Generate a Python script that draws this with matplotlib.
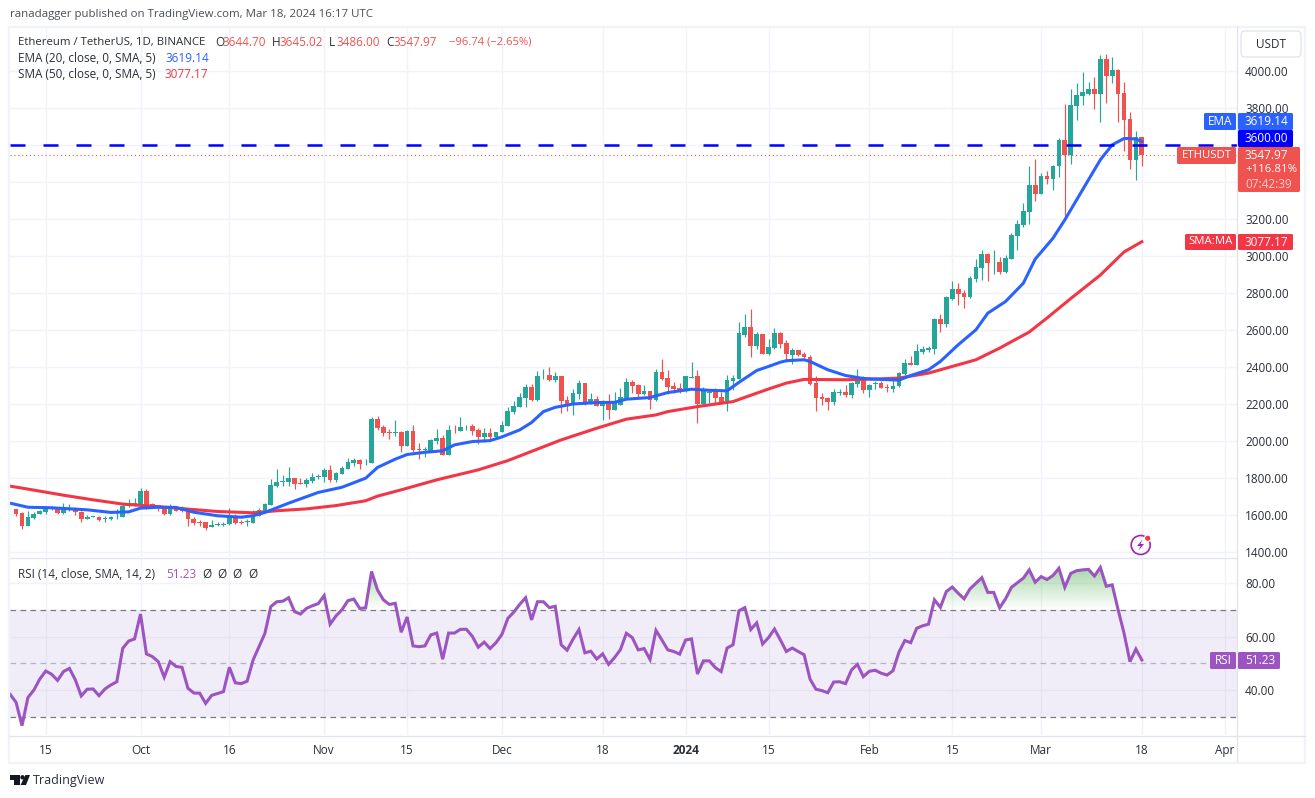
import matplotlib
matplotlib.use('Agg')
import matplotlib.pyplot as plt
import matplotlib.dates as mdates
from matplotlib.patches import Rectangle, Circle, Polygon, FancyBboxPatch
from matplotlib.path import Path
import numpy as np
import pandas as pd

plt.rcParams['font.family'] = ['Open Sans', 'DejaVu Sans']

dates = pd.date_range('2023-09-09', '2024-03-18', freq='D')

opens = [1632,1632,1610,1543,1585,1603,1617,1639,1630,1612,1628,1637,1617,1576,1588,1590,1578,1581,1592,1590,1646,1660,
         1659,1731,1660,1653,1644,1603,1642,1630,1628,1579,1563,1561,1533,1547,1547,1549,1597,1561,1561,1558,1596,1623,1655,1756,1781,1779,1801,1772,1768,1785,1803,
         1806,1844,1790,1824,1848,1882,1898,1884,1882,2118,2076,2047,2042,2049,1975,2055,1957,1954,1948,2001,2017,1927,2060,2056,2080,2083,2060,2019,2044,2024,
         2046,2083,2159,2186,2235,2290,2224,2355,2357,2330,2352,2222,2193,2254,2314,2211,2227,2190,2215,2170,2197,2235,2317,2301,2254,2269,2224,2373,2339,2296,2285,
         2276,2343,2350,2202,2262,2263,2236,2215,2326,2337,2575,2614,2514,2579,2468,2504,2583,2529,2466,2493,2471,2455,2315,2239,2234,2212,2261,2266,2250,2309,2345,
         2277,2308,2311,2291,2282,2295,2363,2423,2412,2482,2493,2498,2662,2633,2768,2822,2801,2779,2876,2936,3011,2965,2968,2914,2984,3109,3168,3240,3384,
         3335,3433,3416,3484,3628,3547,3813,3867,3876,3903,3876,4065,3974,4006,3880,3741,3520,3644.70]
highs = [1634,1634,1617,1624,1614,1628,1648,1648,1635,1666,1659,1641,1621,1601,1597,1596,1596,1597,1630,1664,1687,1693,
         1747,1741,1666,1655,1648,1660,1644,1646,1635,1590,1572,1563,1574,1560,1560,1637,1603,1574,1579,1626,1639,1666,1795,1849,1817,1860,1801,1801,1799,1828,1819,
         1855,1871,1833,1866,1909,1909,1903,1903,2128,2136,2087,2064,2114,2056,2060,2087,1988,1970,2011,2065,2033,2087,2087,2128,2089,2092,2069,2071,2071,2049,
         2109,2184,2217,2262,2308,2307,2380,2389,2402,2373,2352,2244,2281,2330,2314,2258,2242,2222,2253,2265,2285,2339,2330,2308,2303,2269,2388,2442,2384,2319,2312,
         2350,2427,2384,2290,2280,2285,2267,2357,2357,2641,2686,2713,2587,2579,2552,2612,2588,2547,2504,2493,2482,2466,2353,2261,2239,2282,2282,2304,2320,2390,2353,
         2309,2326,2324,2309,2331,2374,2444,2461,2525,2515,2515,2666,2687,2785,2866,2855,2817,2893,2984,3033,3017,3033,2995,3006,3125,3195,3287,3487,3524,
         3449,3460,3492,3637,3822,3902,3934,3993,3943,3965,4087,4092,4078,4010,3938,3777,3677,3645.02]
lows = [1630,1597,1527,1543,1581,1603,1608,1628,1606,1605,1621,1601,1563,1576,1587,1569,1560,1574,1581,1590,1644,1646,
        1650,1633,1639,1621,1601,1601,1623,1614,1542,1547,1543,1520,1533,1542,1542,1547,1549,1552,1538,1558,1594,1621,1655,1752,1758,1758,1741,1767,1750,1772,1797,
        1781,1781,1776,1822,1846,1866,1849,1871,1882,2060,2029,2011,2028,1938,1974,1938,1905,1916,1947,1986,1927,1925,2042,2055,2060,2033,1986,1993,2011,2020,
        2046,2083,2148,2184,2186,2218,2218,2334,2325,2319,2154,2163,2141,2226,2197,2200,2190,2114,2118,2168,2195,2231,2258,2236,2251,2175,2218,2330,2254,2262,2258,
        2267,2341,2100,2200,2204,2208,2208,2164,2276,2334,2564,2456,2499,2468,2466,2498,2504,2428,2414,2457,2450,2304,2164,2196,2169,2196,2250,2239,2234,2293,2261,
        2239,2282,2286,2266,2266,2293,2358,2412,2412,2471,2482,2471,2590,2617,2763,2736,2720,2774,2858,2871,2866,2903,2903,2907,2984,3033,3157,3173,3298,
        3335,3389,3357,3425,3196,3498,3736,3817,3871,3795,3727,3826,3934,3727,3569,3471,3412,3486.00]
closes = [1631,1606,1543,1590,1605,1623,1639,1630,1612,1630,1635,1614,1576,1590,1592,1574,1585,1590,1597,1650,1664,1664,
          1731,1650,1646,1637,1603,1644,1624,1624,1576,1558,1556,1531,1547,1552,1554,1597,1558,1556,1565,1601,1628,1660,1763,1779,1785,1801,1768,1768,1790,1806,1812,
          1844,1790,1828,1855,1887,1898,1876,1889,2118,2071,2044,2042,2047,1975,2055,1954,1954,1957,2006,2017,1927,2060,2058,2076,2083,2056,2019,2044,2024,2049,
          2087,2163,2190,2236,2290,2222,2352,2359,2330,2352,2218,2190,2258,2312,2211,2227,2191,2215,2168,2213,2236,2317,2298,2254,2269,2224,2371,2335,2294,2281,2276,
          2350,2348,2202,2276,2267,2235,2209,2330,2341,2584,2614,2514,2578,2468,2509,2583,2525,2468,2493,2466,2452,2309,2234,2228,2212,2266,2266,2250,2315,2345,2277,
          2304,2311,2288,2284,2299,2367,2421,2412,2488,2498,2504,2662,2633,2776,2822,2795,2779,2882,2941,3011,2963,2968,2914,2990,3114,3173,3244,3384,3335,
          3433,3416,3487,3628,3547,3817,3871,3884,3903,3876,4065,3974,4006,3876,3736,3520,3644,3547.97]

rsi = [38.4,35.4,26.7,37.2,40,44.1,47.1,45.9,43.6,46.9,48.1,43.8,37.8,40.3,40.4,37.9,40.4,41.9,43.1,55.6,58.3,59.1,
       68.4,53.5,52.5,50.6,44.8,50.6,48.8,48.5,40.7,38.9,38.8,35,38,38.7,39.4,48.5,42.7,42.4,43.3,51.2,56.2,61.2,71.2,73,73.2,74.5,69.3,68.4,70.5,71.5,72.3,
       75.3,64.6,67.7,70,73.4,74,70.5,70.7,84.3,77.4,73.7,72,72.4,61.6,67.3,56.5,56.2,56.5,60.6,61.3,51.5,61.3,61.3,62.7,62.7,60.1,56,57.9,55.5,57.7,
       60.8,66.8,69.1,72,74.5,66.2,73,73,70.8,71.3,56.9,54.9,59,62.6,53.9,54.5,51.6,53.5,49.6,52.1,55.1,61.2,59.6,55,55.5,51.4,62.3,58.7,55,54.4,53.4,
       58.7,59.1,46,50.9,50.9,48.4,46.9,55.7,56.9,69.6,70.8,62.6,65.1,57.2,59.6,62.8,58.7,54.4,55.7,54.4,53.2,44.1,40.3,39.8,39,43,43.1,42.4,47.5,49.6,45,
       47,47.4,46.3,45.6,47.2,54.1,58.5,57.7,63.1,64,64.6,73.7,70.9,76.8,78.5,76.2,74.1,77.8,79.9,82,76.5,76.5,70.7,74.1,78.4,80.1,81.8,84.9,80.3,
       82.4,81.3,82.8,85.5,78.4,83.6,84.6,84.9,85.1,82.6,85.8,78.8,79.3,70,61.2,50.6,55.3,51.23]

ema_dates = ['2023-09-09','2023-09-12','2023-09-16','2023-09-22','2023-09-26','2023-09-29','2023-10-01','2023-10-04','2023-10-07',
             '2023-10-10','2023-10-14','2023-10-18','2023-10-20','2023-10-22','2023-10-26','2023-10-31','2023-11-04','2023-11-08',
             '2023-11-10','2023-11-13','2023-11-15','2023-11-18','2023-11-21','2023-11-23','2023-11-26','2023-11-29','2023-12-01',
             '2023-12-04','2023-12-06','2023-12-08','2023-12-10','2023-12-13','2023-12-17','2023-12-20','2023-12-22','2023-12-26',
             '2023-12-29','2024-01-02','2024-01-05','2024-01-08','2024-01-10','2024-01-13','2024-01-15','2024-01-17','2024-01-18',
             '2024-01-21','2024-01-22','2024-01-25','2024-01-28','2024-01-31','2024-02-03','2024-02-06','2024-02-08','2024-02-11',
             '2024-02-13','2024-02-16','2024-02-19','2024-02-21','2024-02-24','2024-02-27','2024-02-29','2024-03-03','2024-03-05',
             '2024-03-08','2024-03-11','2024-03-13','2024-03-15','2024-03-16','2024-03-17','2024-03-18']
ema_vals = [1664,1642,1639,1628,1614,1617,1637,1642,1641,1615,1596,1588,1596,1614,1664,1722,1750,1799,1857,1902,1927,1939,1947,1979,1997,2002,2022,
            2060,2100,2159,2182,2200,2208,2209,2226,2235,2262,2280,2274,2271,2317,2381,2403,2426,2434,2439,2430,2385,2354,2338,2333,2329,2354,2385,
            2430,2520,2601,2691,2754,2853,2983,3096,3195,3358,3520,3601,3635,3635,3632,3619.14]

sma_dates = ['2023-09-09','2023-09-12','2023-09-18','2023-09-23','2023-09-28','2023-10-02','2023-10-09','2023-10-14','2023-10-20',
             '2023-10-24','2023-10-29','2023-11-03','2023-11-08','2023-11-10','2023-11-14','2023-11-20','2023-11-27','2023-12-02',
             '2023-12-11','2023-12-17','2023-12-22','2023-12-27','2023-12-29','2024-01-03','2024-01-09','2024-01-11','2024-01-15',
             '2024-01-18','2024-01-21','2024-01-28','2024-02-02','2024-02-06','2024-02-11','2024-02-15','2024-02-19','2024-02-23',
             '2024-02-28','2024-03-02','2024-03-06','2024-03-11','2024-03-15','2024-03-18']
sma_vals = [1756,1740,1707,1682,1659,1650,1632,1619,1612,1623,1633,1651,1677,1702,1736,1790,1844,1894,2006,2069,2118,2141,2159,2186,2213,2236,2281,
            2313,2333,2331,2335,2340,2367,2403,2439,2502,2589,2665,2770,2897,3022,3077.17]

price_ticks = [1400,1600,1800,2000,2200,2400,2600,2800,3000,3200,3400,3600,3800,4000]
# 3400 and 3600 sit under the price tags in the reference
price_labels = ['1400.00','1600.00','1800.00','2000.00','2200.00','2400.00','2600.00','2800.00','3000.00','3200.00','','','3800.00','4000.00']
rsi_ticks = [40,60,80]
time_ticks = ['2023-09-15','2023-10-01','2023-10-16','2023-11-01','2023-11-15','2023-12-01','2023-12-18','2024-01-01',
              '2024-01-15','2024-02-01','2024-02-15','2024-03-01','2024-03-18','2024-04-01']
time_labels = ['15','Oct','16','Nov','15','Dec','18','2024','15','Feb','15','Mar','18','Apr']

W, H = 1315, 798
UP = '#26a69a'
DOWN = '#ef5350'
BLUE = '#2962ff'
RED = '#f23645'
PURPLE = '#9c55c0'
GRID = '#f0f3fa'
EDGE = '#e0e3eb'
TXT = '#2a2e39'
FS = 8.5

def pane(x0, y0, x1, y1):
    return fig.add_axes([x0/W, 1-y1/H, (x1-x0)/W, (y1-y0)/H])

fig = plt.figure(figsize=(W/100, H/100), dpi=100, facecolor='white')
ax = pane(10, 27, 1237, 557)
ax2 = pane(10, 559, 1237, 735)

x = mdates.date2num(dates)
day0 = mdates.date2num(pd.Timestamp('2023-09-15'))
xmin = day0+(10-45.7)/5.925
xmax = day0+(1237-45.7)/5.925

# candles
o = np.array(opens); h = np.array(highs); l = np.array(lows); c = np.array(closes)
cols = np.where(c >= o, UP, DOWN)
ax.vlines(x, l, h, colors=cols, lw=0.85, zorder=3)
ax.bar(x, np.maximum(np.abs(c-o), 3), bottom=np.minimum(o, c), width=0.8, color=cols, lw=0, zorder=3)

ax.plot(mdates.date2num(pd.to_datetime(sma_dates)), sma_vals, color=RED, lw=2.2, zorder=4, solid_joinstyle='round')
ax.plot(mdates.date2num(pd.to_datetime(ema_dates)), ema_vals, color=BLUE, lw=2.2, zorder=4, solid_joinstyle='round')
ax.axhline(3600, color='#0000ff', lw=1.8, dashes=(6, 7.2), zorder=5)
ax.axhline(closes[-1], color=DOWN, lw=0.8, ls=(0, (1, 2.5)), zorder=2)

ax.set_xlim(xmin, xmax)
ax.set_ylim(1373, 4237.8)
ax.yaxis.tick_right()
ax.set_yticks(price_ticks)
ax.set_yticklabels(price_labels)
ax.tick_params(axis='y', length=0, pad=5.8, labelsize=FS, labelcolor=TXT)
ax.tick_params(axis='x', length=0, labelbottom=False)
ax.set_xticks(mdates.date2num(pd.to_datetime(time_ticks)))
ax.grid(True, color=GRID, lw=1)
ax.set_axisbelow(True)
for s in ax.spines.values():
    s.set_visible(False)

# rsi pane
r = np.array(rsi)
ax2.axhspan(30, 70, color='#7e57c2', alpha=0.1, lw=0, zorder=1)
for lev, a in [(70, 1), (50, 0.5), (30, 1)]:
    ax2.axhline(lev, color='#787b86', lw=0.9, alpha=a, ls=(0, (4.5, 3.5)), zorder=2)
over = ax2.fill_between(x, 70, r, where=r > 70, interpolate=True, facecolor='none', lw=0)
grad = np.zeros((64, 2, 4))
grad[:, :, 0] = 0x4c/255; grad[:, :, 1] = 0xaf/255; grad[:, :, 2] = 0x50/255
grad[:, :, 3] = np.linspace(0, 0.5, 64)[:, None]
im = ax2.imshow(grad, extent=(x[0], x[-1], 70, 86), origin='lower', aspect='auto', zorder=2)
im.set_clip_path(Path.make_compound_path(*over.get_paths()), ax2.transData)
ax2.plot(x, rsi, color=PURPLE, lw=2.2, zorder=3, solid_joinstyle='miter')
ax2.set_xlim(xmin, xmax)
ax2.set_ylim(23.2, 88.97)
ax2.yaxis.tick_right()
ax2.set_yticks(rsi_ticks)
ax2.set_yticklabels(['%.2f' % p for p in rsi_ticks])
ax2.tick_params(axis='y', length=0, pad=5.8, labelsize=FS, labelcolor=TXT)
ax2.set_xticks(mdates.date2num(pd.to_datetime(time_ticks)))
ax2.set_xticklabels(time_labels)
ax2.tick_params(axis='x', length=0, pad=6.5, labelsize=FS, labelcolor=TXT)
for t in ax2.get_xticklabels():
    if t.get_text() == '2024':
        t.set_fontweight('bold')
ax2.grid(True, color=GRID, lw=1)
ax2.set_axisbelow(True)
for s in ax2.spines.values():
    s.set_visible(False)

# overlay in pixel coordinates for frame, price labels and legend
ov = fig.add_axes([0, 0, 1, 1], zorder=10)
ov.set_xlim(0, W)
ov.set_ylim(H, 0)
ov.axis('off')

ov.add_patch(Rectangle((9.5, 26.5), 1295.5, 736, fill=False, ec=GRID, lw=1.6))
ov.plot([1237.5, 1237.5], [27, 762], color=EDGE, lw=0.9)
ov.plot([10, 1305], [735.5, 735.5], color=EDGE, lw=0.9)
ov.plot([10, 1237], [558, 558], color=EDGE, lw=0.9)

def box(x0, y0, x1, y1, color):
    ov.add_patch(FancyBboxPatch((x0+1, y0+1), x1-x0-2, y1-y0-2, boxstyle='round,pad=1,rounding_size=1.5', fc=color, ec='none', zorder=3))

def label(xp, yp, s, color='white', ha='left', **kw):
    ov.text(xp, yp, s, color=color, ha=ha, va='center', fontsize=kw.pop('fontsize', FS), zorder=4, **kw)

box(1204, 113, 1236, 130, BLUE); label(1220, 121.5, 'EMA', ha='center')
box(1238, 113, 1293, 130, BLUE); label(1245, 121.5, '3619.14')
box(1238, 130, 1293, 147, '#0000ff'); label(1245, 138.5, '3600.00')
box(1177, 147, 1236, 164, DOWN); label(1206.5, 155.5, 'ETHUSDT', ha='center', fontsize=8.2)
box(1238, 147, 1300, 192, DOWN)
label(1245, 155.5, '3547.97')
label(1245, 169.5, '+116.81%', fontsize=8.2)
label(1245, 184, '07:42:39', color='#fbd0cf')
box(1185, 234, 1236, 250, RED); label(1210.5, 242, 'SMA:MA', ha='center', fontsize=8.2)
box(1238, 234, 1293, 250, RED); label(1245, 242, '3077.17')
box(1210, 652, 1236, 669, PURPLE); label(1223, 660.5, 'RSI', ha='center')
box(1238, 652, 1280, 669, PURPLE); label(1245, 660.5, '51.23')

ov.add_patch(FancyBboxPatch((1242, 32), 58, 24, boxstyle='round,pad=1,rounding_size=4', fc='white', ec=EDGE, lw=0.9))
label(1271, 44, 'USDT', color=TXT, ha='center')

# legend
label(10, 15, 'ranadagger published on TradingView.com, Mar 18, 2024 16:17 UTC', color='#4a4e59', fontsize=8.25)
label(18, 42, 'Ethereum / TetherUS, 1D, BINANCE', color=TXT, fontsize=8.2)
for xp, head, val in [(215, 'O', '3644.70'), (272, 'H', '3645.02'), (329, 'L', '3486.00'), (386, 'C', '3547.97')]:
    label(xp, 42, head, color=TXT)
    label(xp+8, 42, val, color=DOWN)
label(449, 42, '\u221296.74 (\u22122.65%)', color=DOWN, fontsize=8.1)
label(18, 58, 'EMA (20, close, 0, SMA, 5)', color=TXT)
label(166, 58, '3619.14', color=BLUE)
label(18, 75, 'SMA (50, close, 0, SMA, 5)', color=TXT)
label(165, 75, '3077.17', color=RED)
label(18, 574, 'RSI (14, close, SMA, 14, 2)', color=TXT)
label(166, 574, '51.23', color=PURPLE)
for xp in [207, 222, 237, 253]:
    label(xp, 574, '\u00d8', color=TXT, ha='center')

# lightning badge
ov.add_patch(Circle((1140.7, 545), 9.5, fill=False, ec='#9c27b0', lw=1.2))
ov.add_patch(Polygon([(1142.5, 539.5), (1137, 546), (1140.5, 546), (1138.5, 550.5), (1144, 544), (1140.5, 544)], fc='#9c27b0', ec='none'))
ov.add_patch(Circle((1147.7, 538.3), 3.8, fc='white', ec='none'))
ov.add_patch(Circle((1147.7, 538.3), 2.6, fc=RED, ec='none'))

# logo
ov.add_patch(Polygon([(10, 775), (20, 775), (20, 785), (14.5, 785), (14.5, 779.5), (10, 779.5)], fc='#131722', ec='none'))
ov.add_patch(Circle((22.5, 777.3), 2.2, fc='#131722', ec='none'))
ov.add_patch(Polygon([(25.5, 775), (30, 775), (26, 785), (20.5, 785)], fc='#131722', ec='none'))
label(33, 780.5, 'TradingView', color='#2a2e39', fontsize=9)

fig.savefig('out.png', dpi=100)
